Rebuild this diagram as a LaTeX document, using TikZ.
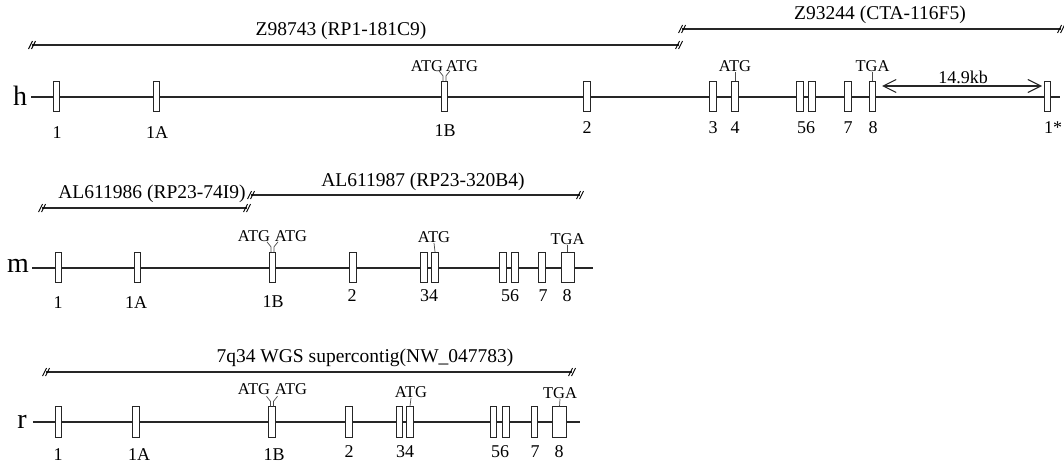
\documentclass[tikz,border=0pt]{standalone}
\usepackage{fontspec}
\setmainfont{Liberation Serif}
\usetikzlibrary{arrows.meta}
\begin{document}
\begin{tikzpicture}[x=1pt,y=-1pt,
  exon/.style={draw=black!85,fill=white,line width=0.8pt,minimum width=6.5pt,minimum height=30.5pt,inner sep=0pt},
  wexon/.style={exon,minimum width=13pt},
  gline/.style={draw=black!85,line width=1.4pt},
  clone/.style={draw=black!85,line width=1.3pt},
  tick/.style={draw=black!70,line width=0.7pt},
  lbl/.style={font=\fontsize{18}{18}\selectfont,inner sep=0pt},
  atg/.style={font=\fontsize{16.5}{16.5}\selectfont,inner sep=0pt},
  clab/.style={font=\fontsize{19.5}{19.5}\selectfont,inner sep=0pt},
  rowlab/.style={font=\fontsize{28}{28}\selectfont,inner sep=0pt},
  dim/.style={draw=black!85,line width=1.1pt,{Straight Barb[length=13pt,width=13pt]}-{Straight Barb[length=13pt,width=13pt]}},
  brk/.pic={\draw[line width=0.9pt] (-3.5,4)--(0.5,-4) (-0.5,4)--(3.5,-4);}
]
\useasboundingbox (0,0) rectangle (1064,464);

% ---------------- human ----------------
\node[clab] (zA) at (341,31) {Z98743 (RP1-181C9)};
\coordinate (zAl) at (32,45); \coordinate (zAr) at (679,45);
\draw[clone] (zAl) -- (zAr);
\pic at (zAl) {brk}; \pic at (zAr) {brk};
\node[clab] (zB) at (880,15) {Z93244 (CTA-116F5)};
\coordinate (zBl) at (682,29); \coordinate (zBr) at (1061,29);
\draw[clone] (zBl) -- (zBr);
\pic at (zBl) {brk}; \pic at (zBr) {brk};

\node[rowlab] (hlab) at (20,96) {h};
\coordinate (hend) at (1060,97);
\draw[gline] (hlab.east) ++(4,1) coordinate (hstart) (hstart) -- (hend);
\foreach \n/\x in {1/56.5,A/156.5,B/444.5,2/587,3/713,4/735,5/800,6/812,7/848,8/872.5,S/1047.5}
  \node[exon] (h\n) at (\x,96.5) {};
\node[lbl] (hl1) at (57,133) {1};
\node[lbl] (hlA) at (157,133) {1A};
\node[lbl] (hlB) at (445,131) {1B};
\node[lbl] (hl2) at (587,128) {2};
\node[lbl] (hl3) at (713,128) {3};
\node[lbl] (hl4) at (735,128) {4};
\node[lbl] (hl56) at (806,128) {56};
\node[lbl] (hl7) at (848,128) {7};
\node[lbl] (hl8) at (873,128) {8};
\node[lbl] (hlS) at (1053,128) {1*};
\node[atg] (hatgL) at (427,66) {ATG};
\node[atg] (hatgR) at (462,66) {ATG};
\draw[tick] ([xshift=-1.5pt]hB.north) -- ++(0,-5) -- ++(-4,-5);
\draw[tick] ([xshift=1.5pt]hB.north) -- ++(0,-5) -- ++(4,-5);
\node[atg,anchor=south] (hatg4) at (735,72) {ATG};
\draw[tick] (h4.north) -- (hatg4.south);
\node[atg,anchor=south] (htga) at (872.5,72) {TGA};
\draw[tick] (h8.north) -- (htga.south);
\coordinate (kbL) at (882,86); \coordinate (kbR) at (1042,86);
\draw[dim] (kbL) -- (kbR);
\node[lbl] (kb) at (963,77) {14.9kb};

% ---------------- mouse ----------------
\node[clab] (mA) at (152,194) {AL611986 (RP23-74I9)};
\coordinate (mAl) at (42,208); \coordinate (mAr) at (247,208);
\draw[clone] (mAl) -- (mAr);
\pic at (mAl) {brk}; \pic at (mAr) {brk};
\node[clab] (mB) at (423,182) {AL611987 (RP23-320B4)};
\coordinate (mBl) at (251,195); \coordinate (mBr) at (580,195);
\draw[clone] (mBl) -- (mBr);
\pic at (mBl) {brk}; \pic at (mBr) {brk};

\node[rowlab] (mlab) at (18,266) {m};
\coordinate (mend) at (593,268);
\draw[gline] (mlab.east) ++(3,2) coordinate (mstart) (mstart) -- (mend);
\foreach \n/\x in {1/58.5,A/137.5,B/272.5,2/353,3/424,4/435,5/503,6/515,7/542}
  \node[exon] (m\n) at (\x,267.5) {};
\node[wexon] (m8) at (567.5,267.5) {};
\node[lbl] (ml1) at (58,303) {1};
\node[lbl] (mlA) at (136,303) {1A};
\node[lbl] (mlB) at (273,302) {1B};
\node[lbl] (ml2) at (352,296) {2};
\node[lbl] (ml34) at (429,296) {34};
\node[lbl] (ml56) at (510,296) {56};
\node[lbl] (ml7) at (543,296) {7};
\node[lbl] (ml8) at (567,296) {8};
\node[atg] (matgL) at (254,236) {ATG};
\node[atg] (matgR) at (291,236) {ATG};
\draw[tick] ([xshift=-1.5pt]mB.north) -- ++(0,-5) -- ++(-4,-5);
\draw[tick] ([xshift=1.5pt]mB.north) -- ++(0,-5) -- ++(4,-5);
\node[atg,anchor=south] (matg4) at (434,243) {ATG};
\draw[tick] (m4.north) -- (matg4.south);
\node[atg,anchor=south] (mtga) at (567.5,245) {TGA};
\draw[tick] (m8.north) -- (mtga.south);

% ---------------- rat ----------------
\node[clab] (rA) at (365,358) {7q34 WGS supercontig(NW\_047783)};
\coordinate (rAl) at (46,372); \coordinate (rAr) at (572,372);
\draw[clone] (rAl) -- (rAr);
\pic at (rAl) {brk}; \pic at (rAr) {brk};

\node[rowlab] (rlab) at (22,422) {r};
\coordinate (rend) at (580,422);
\draw[gline] (rlab.east) ++(6,0) coordinate (rstart) (rstart) -- (rend);
\foreach \n/\x in {1/58.5,A/136,B/272,2/349,3/399.5,4/410,5/493.5,6/506,7/534.5}
  \node[exon] (r\n) at (\x,422) {};
\node[wexon,minimum width=14pt] (r8) at (559.5,422) {};
\node[lbl] (rl1) at (58,455) {1};
\node[lbl] (rlA) at (139,455) {1A};
\node[lbl] (rlB) at (274,454.5) {1B};
\node[lbl] (rl2) at (349,452) {2};
\node[lbl] (rl34) at (405,452) {34};
\node[lbl] (rl56) at (500,452) {56};
\node[lbl] (rl7) at (535,452) {7};
\node[lbl] (rl8) at (559,452) {8};
\node[atg] (ratgL) at (254,389) {ATG};
\node[atg] (ratgR) at (291,389) {ATG};
\draw[tick] ([xshift=-1.5pt]rB.north) -- ++(0,-5) -- ++(-4,-5);
\draw[tick] ([xshift=1.5pt]rB.north) -- ++(0,-5) -- ++(4,-5);
\node[atg,anchor=south] (ratg4) at (411,398) {ATG};
\draw[tick] (r4.north) -- (ratg4.south);
\node[atg,anchor=south] (rtga) at (560,399) {TGA};
\draw[tick] (r8.north) -- (rtga.south);
\end{tikzpicture}
\end{document}
